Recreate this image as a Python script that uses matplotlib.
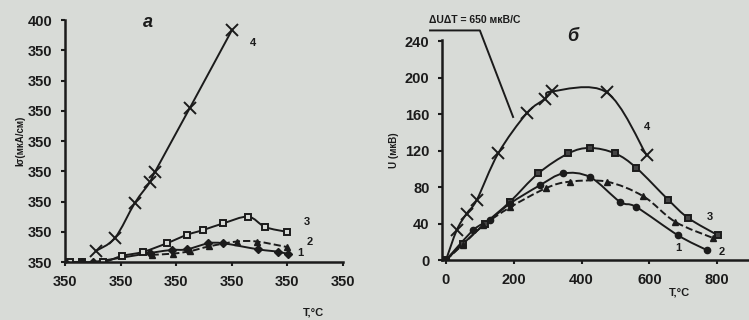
import matplotlib
matplotlib.use("Agg")
import matplotlib.pyplot as plt
import numpy as np
from matplotlib.path import Path
from matplotlib.patches import PathPatch

BG = "#d8dbd7"
INK = "#1b1b1b"

# ---- panel a ----
a_xticks = [0, 200, 400, 600, 800, 1000]
a_xlabels = ["350"] * 6
a_yticks = [0, 50, 100, 150, 200, 250, 300, 350, 400]
a_ylabels = ["350"] * 8 + ["400"]

a4_t = [110, 180, 252, 306, 324, 450, 602]
a4_v = [18, 40, 98, 132, 149, 255, 384]
a3_t = [18, 60, 138, 204, 282, 366, 439, 498, 570, 660, 721, 799]
a3_v = [0, 0, 0, 10, 17, 31, 45, 53, 64, 75, 58, 50]
a2_t = [312, 390, 450, 520, 619, 691, 799]
a2_v = [12, 14, 18, 26, 34, 34, 25]
a1_t = [0, 60, 102, 306, 384, 438, 517, 571, 697, 769, 805]
a1_v = [0, 0, 0, 15, 20, 21, 31, 31, 21, 17, 13]

# ---- panel б ----
b_xticks = [0, 200, 400, 600, 800]
b_yticks = [0, 40, 80, 120, 160, 200, 240]

b4_t = [0, 32, 61, 91, 154, 238, 292, 312, 474, 592]
b4_v = [0, 33, 51, 66, 117, 161, 177, 185, 184, 115]
b3_t = [0, 51, 115, 189, 272, 361, 425, 499, 562, 656, 715, 803]
b3_v = [0, 18, 40, 64, 95, 117, 123, 117, 101, 66, 46, 27]
b2_t = [0, 50, 110, 190, 296, 366, 474, 582, 676, 789]
b2_v = [0, 17, 38, 58, 79, 86, 86, 70, 42, 24]
b1_t = [0, 81, 130, 189, 277, 346, 425, 513, 562, 685, 769]
b1_v = [0, 33, 44, 62, 82, 95, 91, 64, 58, 27, 11]


def smooth_line(ax, xs, ys, ls="-", lw=1.4):
    # bezier path through the measured points (Catmull-Rom style handles)
    p = np.column_stack([xs, ys]).astype(float)
    ext = np.vstack([p[0], p, p[-1]])
    verts, codes = [p[0]], [Path.MOVETO]
    for i in range(1, len(ext) - 2):
        p0, p1, p2, p3 = ext[i - 1], ext[i], ext[i + 1], ext[i + 2]
        verts += [p1 + (p2 - p0) / 6, p2 - (p3 - p1) / 6, p2]
        codes += [Path.CURVE4] * 3
    ax.add_patch(PathPatch(Path(verts, codes), fill=False, edgecolor=INK, lw=lw,
                           linestyle=ls))


plt.rcParams["font.family"] = ["Liberation Sans", "DejaVu Sans"]

fig = plt.figure(figsize=(7.49, 3.2), dpi=100, facecolor=BG)
ax1 = fig.add_axes([0.0868, 0.181, 0.3705, 0.756])
ax2 = fig.add_axes([0.590, 0.1875, 0.41, 0.6875])

for ax in (ax1, ax2):
    ax.set_facecolor(BG)
    ax.spines[["top", "right"]].set_visible(False)
    ax.spines[["left", "bottom"]].set_linewidth(1.8)
    ax.spines[["left", "bottom"]].set_color(INK)
    ax.tick_params(direction="out", length=3, width=1.5, color=INK,
                   labelsize=10.5, labelcolor=INK, pad=6)

series_a = [(a4_t, a4_v, "-", dict(marker="x", ms=8, mew=1.4)),
            (a3_t, a3_v, "-", dict(marker="s", ms=5, mfc=BG, mew=1.4)),
            (a2_t, a2_v, "--", dict(marker="^", ms=5)),
            (a1_t, a1_v, "-", dict(marker="D", ms=4))]
for t, v, ls, mk in series_a:
    smooth_line(ax1, t, v, ls)
    ax1.plot(t, v, ls="none", color=INK, **mk)
ax1.set_xlim(0, 1000)
ax1.set_ylim(0, 400)
ax1.set_xticks(a_xticks, a_xlabels, fontweight="bold")
ax1.set_yticks(a_yticks, a_ylabels, fontweight="bold")
ax1.set_ylabel("Iσ(мкА/см)", fontsize=7, fontweight="bold", color=INK, labelpad=2)
ax1.text(895, -84, "T,°C", fontsize=8, fontweight="bold", color=INK, ha="center",
         va="center", clip_on=False)
ax1.text(299, 396, "а", fontsize=13, fontweight="bold", style="italic", color=INK,
         ha="center", va="center")
for s, x, y in [("4", 677, 363), ("3", 872, 66), ("2", 883, 33), ("1", 847, 15)]:
    ax1.text(x, y, s, fontsize=8, fontweight="bold", color=INK, ha="center", va="center")

series_b = [(b4_t, b4_v, "-", dict(marker="x", ms=8, mew=1.4)),
            (b3_t, b3_v, "-", dict(marker="s", ms=5, mfc="#444", mew=1.4)),
            (b2_t, b2_v, "--", dict(marker="^", ms=5)),
            (b1_t, b1_v, "-", dict(marker="o", ms=4.5))]
for t, v, ls, mk in series_b:
    smooth_line(ax2, t, v, ls)
    ax2.plot(t, v, ls="none", color=INK, **mk)
ax2.set_xlim(-12, 894)
ax2.set_ylim(0, 241.5)
ax2.set_xticks(b_xticks)
ax2.set_yticks(b_yticks)
for lab in ax2.get_xticklabels() + ax2.get_yticklabels():
    lab.set_fontweight("bold")
ax2.set_ylabel("U (мкВ)", fontsize=7, fontweight="bold", color=INK, labelpad=4)
ax2.text(690, -36, "T,°C", fontsize=8, fontweight="bold", color=INK, ha="center",
         va="center", clip_on=False)
ax2.text(375, 245, "б", fontsize=13, fontweight="bold", style="italic", color=INK,
         ha="center", va="center", clip_on=False)
for s, x, y in [("4", 592, 146), ("3", 779, 47), ("1", 684, 13), ("2", 813, 9)]:
    ax2.text(x, y, s, fontsize=8, fontweight="bold", color=INK, ha="center", va="center")

# annotation with leader line to curve 4
ax2.text(85, 263, "ΔUΔT = 650 мкВ/С", fontsize=7.5, fontweight="bold", color=INK,
         ha="center", va="center", clip_on=False)
ax2.plot([-47, 100, 198], [252, 252, 157], color=INK, lw=1.4, clip_on=False)

fig.savefig("out.png", dpi=100, facecolor=BG)
